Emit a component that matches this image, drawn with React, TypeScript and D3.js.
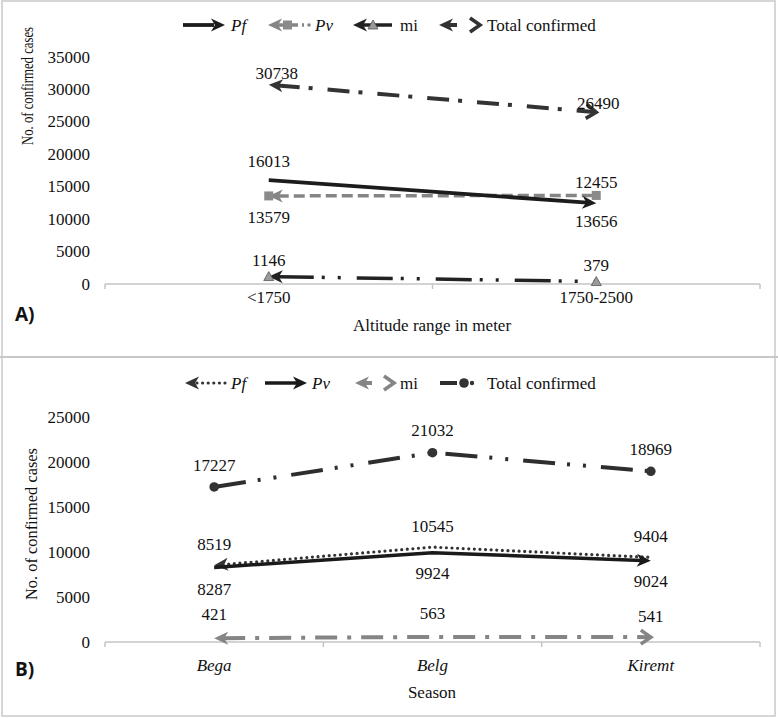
import React from "react";
import * as d3 from "d3";

const altCategories = ["<1750", "1750-2500"];
const altPf = [16013, 12455];
const altPv = [13579, 13656];
const altMi = [1146, 379];
const altTotal = [30738, 26490];
const altTicks = [0, 5000, 10000, 15000, 20000, 25000, 30000, 35000];

const seasonCategories = ["Bega", "Belg", "Kiremt"];
const seasonPf = [8519, 10545, 9404];
const seasonPv = [8287, 9924, 9024];
const seasonMi = [421, 563, 541];
const seasonTotal = [17227, 21032, 18969];
const seasonTicks = [0, 5000, 10000, 15000, 20000, 25000];

const SERIF = "'Liberation Serif', 'Times New Roman', serif";
const FS = 17;

type Pt = [number, number];

function arrowShape(tip: Pt, from: Pt, type: string, color: string, key: string, size = 1) {
  const dx = tip[0] - from[0];
  const dy = tip[1] - from[1];
  const L = Math.hypot(dx, dy) || 1;
  const ux = dx / L, uy = dy / L;
  const px = -uy, py = ux;
  if (type === "stealth") {
    const len = 14 * size, hw = 6.5 * size;
    const bx = tip[0] - ux * len, by = tip[1] - uy * len;
    const nx = tip[0] - ux * len * 0.72, ny = tip[1] - uy * len * 0.72;
    const pts = [tip, [bx + px * hw, by + py * hw], [nx, ny], [bx - px * hw, by - py * hw]];
    return <polygon key={key} points={pts.map((p) => p.join(",")).join(" ")} fill={color} />;
  }
  const len = 10 * size, hw = 7 * size;
  const bx = tip[0] - ux * len, by = tip[1] - uy * len;
  const d = `M${bx + px * hw},${by + py * hw}L${tip[0]},${tip[1]}L${bx - px * hw},${by - py * hw}`;
  return <path key={key} d={d} fill="none" stroke={color} strokeWidth={3.6 * size} strokeLinejoin="miter" />;
}

function shorten(a: Pt, b: Pt, by: number): Pt {
  const dx = b[0] - a[0], dy = b[1] - a[1];
  const L = Math.hypot(dx, dy) || 1;
  return [a[0] + (dx / L) * by, a[1] + (dy / L) * by];
}

interface Series {
  name: string;
  values: number[];
  color: string;
  width: number;
  dash?: string;
  cap?: string;
  startArrow?: string;
  endArrow?: string;
  marker?: string;
  markerColor?: string;
  labelDy: number[];
  labelDx?: number[];
}

function marker(type: string | undefined, p: Pt, color: string, key: string) {
  if (type === "square") return <rect key={key} x={p[0] - 4.5} y={p[1] - 4.5} width={9} height={9} fill={color} />;
  if (type === "triangle")
    return (
      <polygon key={key} points={`${p[0]},${p[1] - 5} ${p[0] - 5},${p[1] + 4} ${p[0] + 5},${p[1] + 4}`} fill={color} stroke="#555" strokeWidth={0.8} />
    );
  if (type === "circle") return <circle key={key} cx={p[0]} cy={p[1]} r={4.8} fill={color} />;
  return null;
}

function Panel({
  categories, series, ticks, yMax, y0, y1, xLabel, italicCats, catY, titleY, yTitleX, yTitleY, yTitleLen, panelLabel, panelLabelY,
}: any) {
  const x = d3.scalePoint<string>().domain(categories).range([105, 760]).padding(0.5);
  const y = d3.scaleLinear().domain([0, yMax]).range([y0, y1]);
  const step = x.step();
  const bounds = d3.range(categories.length + 1).map((i) => 105 + i * step);
  const line = d3.line<Pt>();
  return (
    <g>
      {ticks.map((t: number) => (
        <text key={"t" + t} x={90} y={y(t)} textAnchor="end" dominantBaseline="central" fontFamily={SERIF} fontSize={FS} fill="#111">
          {t}
        </text>
      ))}
      <line x1={105} x2={760} y1={y0} y2={y0} stroke="#c4c4c4" strokeWidth={1.5} />
      {bounds.map((b: number, i: number) => (
        <line key={"b" + i} x1={b} x2={b} y1={y0} y2={y0 + 5} stroke="#c4c4c4" strokeWidth={1.5} />
      ))}
      {categories.map((c: string) => (
        <text key={c} x={x(c)} y={catY} textAnchor="middle" fontFamily={SERIF} fontSize={FS} fontStyle={italicCats ? "italic" : "normal"} fill="#111">
          {c}
        </text>
      ))}
      <text x={432} y={titleY} textAnchor="middle" fontFamily={SERIF} fontSize={FS} fill="#111">
        {xLabel}
      </text>
      <text
        transform={`translate(${yTitleX},${yTitleY}) rotate(-90)`}
        textAnchor="middle"
        fontFamily={SERIF}
        fontSize={FS}
        fill="#111"
        textLength={yTitleLen}
        lengthAdjust="spacingAndGlyphs"
      >
        No. of confirmed cases
      </text>
      <text x={15} y={panelLabelY} dominantBaseline="central" fontFamily="'Open Sans', 'DejaVu Sans', sans-serif" fontWeight={700} fontSize={19} fill="#111">
        {panelLabel}
      </text>
      {series.map((s: Series) => {
        const pts: Pt[] = s.values.map((v, i) => [x(categories[i]) as number, y(v)]);
        const draw = pts.map((p) => [p[0], p[1]] as Pt);
        if (s.startArrow === "stealth") draw[0] = shorten(pts[0], pts[1], 9);
        if (s.endArrow === "stealth") draw[draw.length - 1] = shorten(pts[pts.length - 1], pts[pts.length - 2], 9);
        if (s.endArrow === "open") draw[draw.length - 1] = shorten(pts[pts.length - 1], pts[pts.length - 2], 2);
        return (
          <g key={s.name}>
            <path d={line(draw) as string} fill="none" stroke={s.color} strokeWidth={s.width} strokeDasharray={s.dash} strokeLinecap={(s.cap as any) || "butt"} strokeLinejoin="round" />
            {s.startArrow && arrowShape(pts[0], pts[1], s.startArrow, s.color, "sa")}
            {s.endArrow && arrowShape(pts[pts.length - 1], pts[pts.length - 2], s.endArrow, s.color, "ea")}
            {pts.map((p, i) => marker(s.marker, p, s.markerColor || s.color, "m" + i))}
          </g>
        );
      })}
      {series.map((s: Series) =>
        s.values.map((v, i) => (
          <text key={s.name + "l" + i} x={(x(categories[i]) as number) + (s.labelDx ? s.labelDx[i] : 0)} y={y(v) + s.labelDy[i]} textAnchor="middle" dominantBaseline="central" fontFamily={SERIF} fontSize={FS} fill="#111">
            {v}
          </text>
        ))
      )}
    </g>
  );
}

const altSeries: Series[] = [
  { name: "Total confirmed", values: altTotal, color: "#333", width: 4, dash: "22 9 4 15", startArrow: "stealth", endArrow: "open", labelDy: [-11, -9], labelDx: [8, 2] },
  { name: "Pv", values: altPv, color: "#858585", width: 3.5, dash: "11 5", startArrow: "stealth", marker: "square", markerColor: "#8a8a8a", labelDy: [22, 26] },
  { name: "Pf", values: altPf, color: "#1c1c1c", width: 3.8, endArrow: "stealth", labelDy: [-19, -21] },
  { name: "mi", values: altMi, color: "#222", width: 3.5, dash: "36 8 3 13 3 16", startArrow: "stealth", marker: "triangle", markerColor: "#9a9a9a", labelDy: [-16, -16] },
];

const seasonSeries: Series[] = [
  { name: "Total confirmed", values: seasonTotal, color: "#2e2e2e", width: 4, dash: "32 12 3 13 3 15", marker: "circle", markerColor: "#333", labelDy: [-21, -22, -22] },
  { name: "Pf", values: seasonPf, color: "#333", width: 3.2, dash: "0 5.6", cap: "round", startArrow: "stealth", labelDy: [-21, -21, -21] },
  { name: "Pv", values: seasonPv, color: "#1a1a1a", width: 3.5, endArrow: "stealth", labelDy: [22, 21, 21] },
  { name: "mi", values: seasonMi, color: "#858585", width: 4, dash: "22 10 4 10", startArrow: "stealth", endArrow: "open", labelDy: [-24, -23, -21] },
];

function LegendText({ x, y, children, italic }: any) {
  return (
    <text x={x} y={y} dominantBaseline="central" fontFamily={SERIF} fontSize={FS} fontStyle={italic ? "italic" : "normal"} fill="#111">
      {children}
    </text>
  );
}

function LegendA({ y }: { y: number }) {
  return (
    <g>
      <line x1={183} x2={214} y1={y} y2={y} stroke="#1c1c1c" strokeWidth={3.8} />
      {arrowShape([225, y], [183, y], "stealth", "#1c1c1c", "a1")}
      <LegendText x={231} y={y} italic>Pf</LegendText>

      <line x1={276} x2={304} y1={y} y2={y} stroke="#858585" strokeWidth={3.5} strokeDasharray="9 4" />
      <circle cx={309} cy={y} r={1.8} fill="#858585" />
      {arrowShape([268, y], [310, y], "stealth", "#858585", "a2")}
      <rect x={283} y={y - 4.5} width={9} height={9} fill="#8a8a8a" />
      <LegendText x={315} y={y} italic>Pv</LegendText>

      <line x1={362} x2={392} y1={y} y2={y} stroke="#222" strokeWidth={3.5} />
      {arrowShape([353, y], [392, y], "stealth", "#222", "a3")}
      <polygon points={`373,${y - 5} 368,${y + 4} 378,${y + 4}`} fill="#9a9a9a" stroke="#555" strokeWidth={0.8} />
      <LegendText x={400} y={y}>mi</LegendText>

      <line x1={448} x2={457} y1={y} y2={y} stroke="#333" strokeWidth={4} />
      {arrowShape([439, y], [460, y], "stealth", "#333", "a4")}
      {arrowShape([480, y], [460, y], "open", "#333", "a5")}
      <LegendText x={487} y={y}>Total confirmed</LegendText>
    </g>
  );
}

function LegendB({ y }: { y: number }) {
  return (
    <g>
      <line x1={197} x2={226} y1={y} y2={y} stroke="#333" strokeWidth={3.2} strokeDasharray="0 5.6" strokeLinecap="round" />
      {arrowShape([185, y], [226, y], "stealth", "#333", "b1")}
      <LegendText x={231} y={y} italic>Pf</LegendText>

      <line x1={265} x2={297} y1={y} y2={y} stroke="#1a1a1a" strokeWidth={3.5} />
      {arrowShape([307, y], [265, y], "stealth", "#1a1a1a", "b2")}
      <LegendText x={312} y={y} italic>Pv</LegendText>

      <line x1={363} x2={372} y1={y} y2={y} stroke="#858585" strokeWidth={4} />
      {arrowShape([355, y], [395, y], "stealth", "#858585", "b3")}
      {arrowShape([394, y], [370, y], "open", "#858585", "b4")}
      <LegendText x={400} y={y}>mi</LegendText>

      <line x1={440} x2={457} y1={y} y2={y} stroke="#2e2e2e" strokeWidth={4} />
      <circle cx={464} cy={y} r={4.8} fill="#333" />
      <circle cx={472} cy={y} r={2.2} fill="#333" />
      <LegendText x={487} y={y}>Total confirmed</LegendText>
    </g>
  );
}

export default function App() {
  return (
    <div style={{ position: "absolute", left: 0, top: 0, width: 778, height: 718, background: "#fff" }}>
      <svg width={778} height={718} style={{ display: "block" }}>
        <rect x={0} y={0} width={778} height={718} fill="#fff" />
        <rect x={2} y={1} width={773} height={715} fill="none" stroke="#d6d6d6" strokeWidth={2} />
        <line x1={0} x2={778} y1={357} y2={357} stroke="#c8c8c8" strokeWidth={2} />
        <LegendA y={25} />
        <Panel
          categories={altCategories}
          series={altSeries}
          ticks={altTicks}
          yMax={35000}
          y0={284}
          y1={57}
          xLabel="Altitude range in meter"
          italicCats={false}
          catY={303}
          titleY={331}
          yTitleX={33}
          yTitleY={86}
          yTitleLen={118}
          panelLabel="A)"
          panelLabelY={314}
        />
        <LegendB y={383} />
        <Panel
          categories={seasonCategories}
          series={seasonSeries}
          ticks={seasonTicks}
          yMax={25000}
          y0={642}
          y1={417}
          xLabel="Season"
          italicCats={true}
          catY={671}
          titleY={698}
          yTitleX={37}
          yTitleY={524}
          yTitleLen={152}
          panelLabel="B)"
          panelLabelY={669}
        />
      </svg>
    </div>
  );
}
